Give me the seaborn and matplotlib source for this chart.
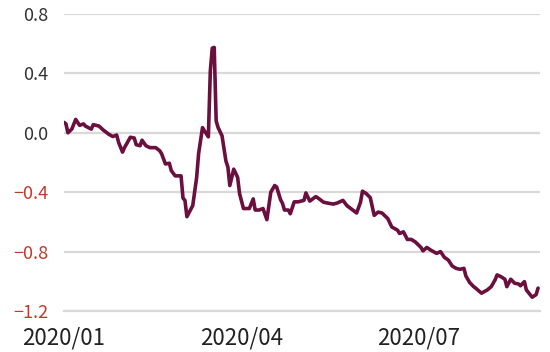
import pandas as pd
import seaborn as sns
import matplotlib.pyplot as plt
import matplotlib.dates as mdates
from matplotlib.ticker import FuncFormatter

# -------------------------
# Data
# -------------------------
dates = [
    "2020-01-01", "2020-01-02", "2020-01-03", "2020-01-05", "2020-01-07", "2020-01-09",
    "2020-01-11", "2020-01-12", "2020-01-15", "2020-01-16", "2020-01-19", "2020-01-21",
    "2020-01-24", "2020-01-26", "2020-01-28", "2020-01-29", "2020-01-31",
    "2020-02-01", "2020-02-04", "2020-02-06", "2020-02-07", "2020-02-09", "2020-02-10",
    "2020-02-12", "2020-02-14", "2020-02-17", "2020-02-19", "2020-02-20", "2020-02-22",
    "2020-02-24", "2020-02-25", "2020-02-27",
    "2020-03-01", "2020-03-02", "2020-03-03", "2020-03-04", "2020-03-07", "2020-03-09",
    "2020-03-10", "2020-03-12", "2020-03-13", "2020-03-15", "2020-03-16", "2020-03-17",
    "2020-03-18", "2020-03-19", "2020-03-20", "2020-03-22", "2020-03-24", "2020-03-25",
    "2020-03-26", "2020-03-28", "2020-03-30", "2020-03-31",
    "2020-04-02", "2020-04-05", "2020-04-07", "2020-04-08", "2020-04-10", "2020-04-12",
    "2020-04-14", "2020-04-16", "2020-04-18", "2020-04-19", "2020-04-21", "2020-04-22",
    "2020-04-23", "2020-04-25", "2020-04-26", "2020-04-28", "2020-04-30",
    "2020-05-03", "2020-05-04", "2020-05-06", "2020-05-09", "2020-05-10", "2020-05-13",
    "2020-05-15", "2020-05-18", "2020-05-20", "2020-05-23", "2020-05-25", "2020-05-27",
    "2020-05-30",
    "2020-06-01", "2020-06-02", "2020-06-04", "2020-06-06", "2020-06-08", "2020-06-10",
    "2020-06-12", "2020-06-15", "2020-06-17", "2020-06-20", "2020-06-21", "2020-06-23",
    "2020-06-25", "2020-06-27", "2020-06-29",
    "2020-07-02", "2020-07-03", "2020-07-05", "2020-07-07", "2020-07-10", "2020-07-12",
    "2020-07-14", "2020-07-16", "2020-07-18", "2020-07-20", "2020-07-22", "2020-07-24",
    "2020-07-25", "2020-07-27", "2020-07-29", "2020-07-30",
    "2020-08-02", "2020-08-05", "2020-08-07", "2020-08-09", "2020-08-10", "2020-08-12",
    "2020-08-14", "2020-08-15", "2020-08-17", "2020-08-19", "2020-08-21", "2020-08-22",
    "2020-08-24", "2020-08-25", "2020-08-27", "2020-08-28", "2020-08-30", "2020-08-31",
]

values = [
    0.07, 0.06, 0.00, 0.025, 0.09, 0.05,
    0.06, 0.045, 0.025, 0.055, 0.045, 0.02,
    -0.01, -0.025, -0.015, -0.065, -0.13,
    -0.10, -0.03, -0.035, -0.08, -0.087, -0.05,
    -0.087, -0.10, -0.10, -0.12, -0.14, -0.21,
    -0.205, -0.255, -0.29,
    -0.29, -0.44, -0.455, -0.565, -0.49, -0.30,
    -0.14, 0.035, 0.013, -0.027, 0.415, 0.57,
    0.575, 0.08, 0.035, -0.02, -0.19, -0.23,
    -0.355, -0.245, -0.30, -0.41,
    -0.51, -0.51, -0.445, -0.52, -0.52, -0.51,
    -0.585, -0.40, -0.355, -0.365, -0.45, -0.475,
    -0.52, -0.52, -0.545, -0.465, -0.465,
    -0.455, -0.405, -0.46, -0.43, -0.437, -0.467,
    -0.473, -0.48, -0.473, -0.455, -0.49, -0.51,
    -0.54,
    -0.467, -0.393, -0.41, -0.437, -0.556, -0.534,
    -0.54, -0.578, -0.634, -0.656, -0.678, -0.667,
    -0.718, -0.718, -0.734,
    -0.772, -0.795, -0.772, -0.79, -0.812, -0.80,
    -0.839, -0.857, -0.897, -0.913, -0.919, -0.913,
    -0.964, -1.009, -1.036, -1.046,
    -1.08, -1.058, -1.036, -0.99, -0.957, -0.969,
    -0.986, -1.036, -0.986, -1.013, -1.018, -1.03,
    -1.002, -1.058, -1.09, -1.107, -1.09, -1.046,
]

y_ticks = [-1.2, -0.8, -0.4, 0.0, 0.4, 0.8]
x_ticks = ["2020-01-01", "2020-04-01", "2020-07-01"]

LINE_COLOR = "#6B0F3F"
GRID_COLOR = "#D9D9D9"
NEG_COLOR = "#C0392B"
POS_COLOR = "#333333"

df = pd.DataFrame({"date": pd.to_datetime(dates), "value": values})

# -------------------------
# Style
# -------------------------
sns.set_style("white")
plt.rcParams["font.family"] = ["Noto Sans CJK JP", "DejaVu Sans"]

fig = plt.figure(figsize=(5.5, 3.52), dpi=100)
ax = fig.add_axes([64 / 550, 1 - 311 / 352, 476 / 550, 297 / 352])

sns.lineplot(data=df, x="date", y="value", color=LINE_COLOR, linewidth=2.6, ax=ax, zorder=3)

ax.set_ylim(-1.2, 0.8)
ax.set_xlim(pd.Timestamp("2020-01-01"), pd.Timestamp("2020-09-01"))
ax.set_yticks(y_ticks)
ax.yaxis.set_major_formatter(FuncFormatter(lambda v, _: f"{v:.1f}".replace("-", "\u2212")))
ax.set_xticks(pd.to_datetime(x_ticks))
ax.xaxis.set_major_formatter(mdates.DateFormatter("%Y/%m"))

ax.grid(axis="y", color=GRID_COLOR, linewidth=1.6, zorder=0)
ax.grid(axis="x", visible=False)
for side in ["top", "right", "left"]:
    ax.spines[side].set_visible(False)
ax.spines["bottom"].set_color(GRID_COLOR)
ax.spines["bottom"].set_linewidth(1.6)

ax.tick_params(axis="y", length=0, pad=11, labelsize=13)
ax.tick_params(axis="x", length=5, width=1.6, color=GRID_COLOR, pad=6, labelsize=16, labelcolor="#222222")
for lbl, v in zip(ax.get_yticklabels(), y_ticks):
    lbl.set_color(NEG_COLOR if v < 0 else POS_COLOR)

ax.set_xlabel("")
ax.set_ylabel("")

plt.savefig("out.png", dpi=100)
plt.close()
